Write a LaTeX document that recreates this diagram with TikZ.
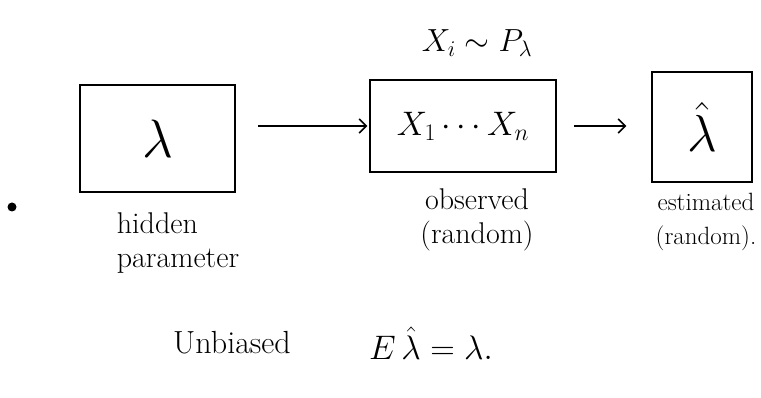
\RequirePackage{fix-cm}
\documentclass[tikz,border=0pt]{standalone}
\usepackage{amsmath}
\usetikzlibrary{arrows.meta}
\tikzset{
  box/.style={draw, line width=1.5pt, inner sep=0pt},
  arr/.style={-{Straight Barb[length=7pt, width=14pt, line width=1.5pt]}, line width=1.5pt},
  lbl/.style={font=\fontsize{#1}{34}\selectfont, align=center, inner sep=1pt},
  lbl/.default=30,
  sym/.style={font=\fontsize{#1}{#1}\selectfont, inner sep=1pt},
  sym/.default=34,
}

\begin{document}
\begin{tikzpicture}[x=1pt, y=-1pt]
    \useasboundingbox (0,0) rectangle (761,398);
    % boxes
    \node[box, sym=54, minimum width=155pt, minimum height=107pt] (hid) at (157.5,138.5) {$\lambda$};
    \node[box, sym, minimum width=186pt, minimum height=92pt]  (obs) at (463,126) {$X_1 \cdots X_n$};
    \node[box, sym=52, minimum width=100pt, minimum height=110pt] (est) at (702,127) {$\hat{\lambda}$};
    % labels
    \node[sym=32] (dist) at (477,43) {$X_i \sim P_\lambda$};
    \node[fill, circle, inner sep=0pt, minimum size=9pt] (dot) at (12,207) {};
    \node[lbl, align=left] (hidl) at (178,243) {hidden\\parameter};
    \node[lbl] (obsl) at (477,220) {observed\\(random)};
    \node[lbl=25] (estl) at (706,222) {estimated\\(random).};
    \node[lbl=32] (unb) at (232,343) {Unbiased};
    \node[sym=34] (expv) at (431,343) {$E\,\hat{\lambda} = \lambda.$};

    \draw[arr, shorten <=22pt, shorten >=2pt] (hid.east |- obs.west) -- (obs.west);
    \draw[arr, shorten <=17pt, shorten >=25pt] (obs.east) -- (est.west |- obs.east);
\end{tikzpicture}
\end{document}
